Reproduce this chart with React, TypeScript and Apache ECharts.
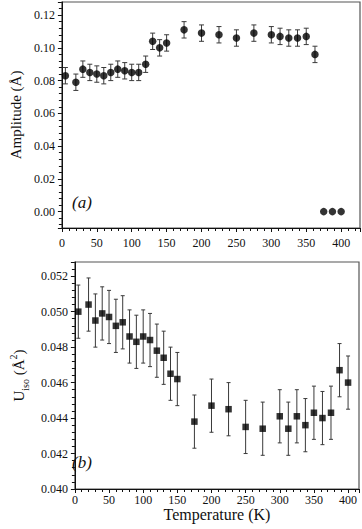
import React, { useEffect, useRef } from "react";
import * as echarts from "echarts";

const temperatures = [5, 20, 30, 40, 50, 60, 70, 80, 90, 100, 110, 120, 130, 140, 150, 175, 200, 225, 250, 275, 300, 312.5, 325, 337.5, 350, 362.5, 375, 387.5, 400];
const amplitude = [0.083, 0.079, 0.087, 0.085, 0.084, 0.083, 0.085, 0.087, 0.086, 0.085, 0.085, 0.090, 0.104, 0.100, 0.103, 0.111, 0.109, 0.108, 0.106, 0.109, 0.108, 0.107, 0.106, 0.106, 0.107, 0.096, 0, 0, 0];
const amplitudeErr = [0.005, 0.005, 0.005, 0.005, 0.005, 0.005, 0.005, 0.005, 0.005, 0.005, 0.005, 0.005, 0.005, 0.005, 0.005, 0.005, 0.005, 0.005, 0.005, 0.005, 0.005, 0.005, 0.005, 0.005, 0.005, 0.005, 0, 0, 0];
const uiso = [0.0500, 0.0504, 0.0495, 0.0499, 0.0497, 0.0492, 0.0494, 0.0486, 0.0483, 0.0486, 0.0484, 0.0478, 0.0474, 0.0465, 0.0462, 0.0438, 0.0447, 0.0445, 0.0435, 0.0434, 0.0441, 0.0434, 0.0441, 0.0436, 0.0443, 0.0440, 0.0443, 0.0467, 0.0460];
const uisoErr = [0.0015, 0.0015, 0.0015, 0.0015, 0.0015, 0.0015, 0.0015, 0.0015, 0.0015, 0.0015, 0.0015, 0.0015, 0.0015, 0.0015, 0.0015, 0.0015, 0.0015, 0.0015, 0.0015, 0.0015, 0.0015, 0.0015, 0.0015, 0.0015, 0.0015, 0.0015, 0.0015, 0.0015, 0.0015];
const xTickLabels = ["0", "50", "100", "150", "200", "250", "300", "350", "400"];

const FONT = "'Liberation Serif', 'DejaVu Serif', serif";

function errorData(vals: number[], errs: number[]) {
  return temperatures
    .map((t, i) => [t, vals[i] - errs[i], vals[i] + errs[i], errs[i]])
    .filter((d) => d[3] > 0);
}

function errorRender(capHalf: number) {
  return (params: any, api: any) => {
    const x = api.value(0);
    const lo = api.coord([x, api.value(1)]);
    const hi = api.coord([x, api.value(2)]);
    const style = { stroke: "#3a3a3a", lineWidth: 1 };
    return {
      type: "group",
      children: [
        { type: "line", shape: { x1: lo[0], y1: lo[1], x2: hi[0], y2: hi[1] }, style },
        { type: "line", shape: { x1: lo[0] - capHalf, y1: lo[1], x2: lo[0] + capHalf, y2: lo[1] }, style },
        { type: "line", shape: { x1: hi[0] - capHalf, y1: hi[1], x2: hi[0] + capHalf, y2: hi[1] }, style },
      ],
    };
  };
}

export default function App() {
  const ref = useRef<HTMLDivElement>(null);
  useEffect(() => {
    if (!ref.current) return;
    const chart = echarts.init(ref.current, null, { renderer: "svg" });
    const axisLine = { show: true, onZero: false, lineStyle: { color: "#111", width: 1 } };
    const xAxisCommon = (max: number, margin: number) => ({
      type: "value",
      min: 0,
      max,
      interval: 50,
      axisLine,
      axisTick: { show: true, length: 4, lineStyle: { color: "#111" } },
      minorTick: { show: true, splitNumber: 5, length: 3, lineStyle: { color: "#111" } },
      splitLine: { show: false },
      axisLabel: {
        show: true,
        showMaxLabel: false,
        margin,
        fontFamily: FONT,
        fontSize: 12,
        color: "#111",
        formatter: (v: number) => (xTickLabels.includes(String(v)) ? String(v) : ""),
      },
    });
    chart.setOption({
      animation: false,
      grid: [
        { left: 58, top: 2, right: 2, height: 226, show: true, borderColor: "#555", borderWidth: 1.2 },
        { left: 58, top: 262, right: 3, height: 227, show: true, borderColor: "#555", borderWidth: 1.2 },
      ],
      xAxis: [
        { ...xAxisCommon(427, 9), gridIndex: 0 },
        {
          ...xAxisCommon(416, 5),
          gridIndex: 1,
          name: "Temperature (K)",
          nameLocation: "middle",
          nameGap: 15,
          nameTextStyle: { fontFamily: FONT, fontSize: 16, color: "#111" },
        },
      ],
      yAxis: [
        {
          type: "value",
          gridIndex: 0,
          min: -0.01,
          max: 0.128,
          splitNumber: 7,
          axisLine,
          axisTick: { show: true, length: 4, lineStyle: { color: "#111" } },
          minorTick: { show: true, splitNumber: 5, length: 3, lineStyle: { color: "#111" } },
          splitLine: { show: false },
          axisLabel: {
            showMinLabel: false,
            showMaxLabel: false,
            margin: 7,
            fontFamily: FONT,
            fontSize: 12,
            color: "#111",
            formatter: (v: number) => v.toFixed(2),
          },
          name: "Amplitude (Å)",
          nameLocation: "middle",
          nameGap: 31,
          nameRotate: 90,
          nameTextStyle: { fontFamily: FONT, fontSize: 15, color: "#111" },
        },
        {
          type: "value",
          gridIndex: 1,
          min: 0.04,
          max: 0.0528,
          interval: 0.002,
          axisLine,
          axisTick: { show: true, length: 4, lineStyle: { color: "#111" } },
          minorTick: { show: true, splitNumber: 5, length: 3, lineStyle: { color: "#111" } },
          splitLine: { show: false },
          axisLabel: {
            showMaxLabel: false,
            margin: 7,
            fontFamily: FONT,
            fontSize: 12,
            color: "#111",
            formatter: (v: number) => v.toFixed(3),
          },
          name: "{n|U}{sub|iso}{n| (Å}{sup|2}{n|)}",
          nameLocation: "middle",
          nameGap: 39,
          nameRotate: 90,
          nameTextStyle: {
            fontFamily: FONT,
            fontSize: 15,
            color: "#111",
            rich: {
              n: { fontFamily: FONT, fontSize: 15, color: "#111", lineHeight: 22, verticalAlign: "middle" },
              sub: { fontFamily: FONT, fontSize: 10, color: "#111", lineHeight: 12, verticalAlign: "bottom" },
              sup: { fontFamily: FONT, fontSize: 10, color: "#111", lineHeight: 12, verticalAlign: "top" },
            },
          },
        },
      ],
      series: [
        {
          type: "custom",
          xAxisIndex: 0,
          yAxisIndex: 0,
          renderItem: errorRender(2.5),
          data: errorData(amplitude, amplitudeErr),
          encode: { x: 0, y: [1, 2] },
          z: 2,
        },
        {
          type: "scatter",
          xAxisIndex: 0,
          yAxisIndex: 0,
          symbol: "circle",
          symbolSize: 7.5,
          itemStyle: { color: "#000" },
          data: temperatures.map((t, i) => [t, amplitude[i]]),
          z: 3,
        },
        {
          type: "custom",
          xAxisIndex: 1,
          yAxisIndex: 1,
          renderItem: errorRender(2),
          data: errorData(uiso, uisoErr),
          encode: { x: 0, y: [1, 2] },
          z: 2,
        },
        {
          type: "scatter",
          xAxisIndex: 1,
          yAxisIndex: 1,
          symbol: "rect",
          symbolSize: 6.5,
          itemStyle: { color: "#000" },
          data: temperatures.map((t, i) => [t, uiso[i]]),
          z: 3,
        },
      ],
      graphic: [
        {
          type: "text",
          left: 72,
          top: 194,
          style: { text: "(a)", fontFamily: FONT, fontStyle: "italic", fontSize: 17, fill: "#111" },
        },
        {
          type: "text",
          left: 72,
          top: 454,
          style: { text: "(b)", fontFamily: FONT, fontStyle: "italic", fontSize: 17, fill: "#111" },
        },
      ],
    });
    return () => chart.dispose();
  }, []);
  return <div ref={ref} style={{ position: "absolute", left: 0, top: 0, width: 362, height: 529 }} />;
}
